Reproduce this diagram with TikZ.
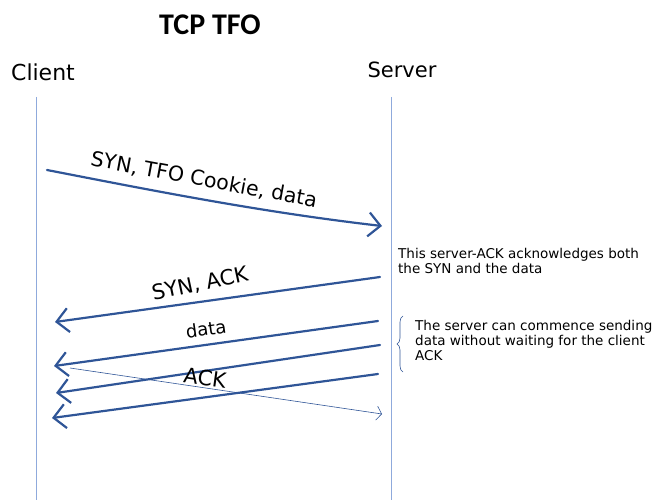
\documentclass[tikz,border=0pt]{standalone}
\usepackage{fontspec}
\setmainfont{DejaVu Sans}
\newfontfamily\titlefont{Carlito}
\usetikzlibrary{arrows.meta,decorations.pathreplacing}
\definecolor{msg}{RGB}{47,85,151}
\definecolor{life}{RGB}{143,170,220}
\tikzset{
  lifeline/.style={draw=life, line width=0.6pt},
  msgline/.style={draw=msg, line width=2.2pt, line cap=round,
    -{Straight Barb[length=12pt,width=24pt,line width=2.2pt]}},
  thinmsg/.style={draw=msg, line width=0.6pt,
    -{Straight Barb[length=5pt,width=14pt,line width=0.6pt]}},
  lbl/.style={font=\fontsize{21}{23}\selectfont, inner sep=0pt},
  note/.style={font=\fontsize{13.5}{15}\selectfont, align=left, inner sep=0pt, anchor=north west}
}
\begin{document}
\begin{tikzpicture}[x=1pt,y=-1pt]
\useasboundingbox (0,0) rectangle (654,500);
\node[font=\titlefont\bfseries\fontsize{30}{32}\selectfont] (title) at (210,25) {TCP TFO};
\node[font=\fontsize{22}{24}\selectfont] (client) at (43,72) {Client};
\node[font=\fontsize{21}{23}\selectfont] (server) at (402,70) {Server};
\coordinate (ctop) at (36,97);
\coordinate (cbot) at (36,500);
\coordinate (stop) at (391,97);
\coordinate (sbot) at (391,500);
\draw[lifeline] (ctop) -- (cbot);
\draw[lifeline] (stop) -- (sbot);
% message endpoints
\coordinate (m1s) at (47,170);
\coordinate (m1e) at (382,226);
\coordinate (m2s) at (380,277);
\coordinate (m2e) at (55,322);
\coordinate (m3s) at (378,321);
\coordinate (m3e) at (54,366);
\coordinate (m4s) at (380,345);
\coordinate (m4e) at (56,393);
\coordinate (m5s) at (378,374);
\coordinate (m5e) at (52,418);
\coordinate (t1s) at (70,368);
\coordinate (t1e) at (382,414);
\draw[msgline] (m1s) .. controls (150,190) and (260,212) .. (m1e);
\draw[msgline] (m2s) -- (m2e);
\draw[msgline] (m3s) -- (m3e);
\draw[msgline] (m4s) -- (m4e);
\draw[msgline] (m5s) -- (m5e);
\draw[thinmsg] (t1s) -- (t1e);
% labels
\node[lbl, font=\fontsize{20.5}{22}\selectfont, rotate=-10.5] (l1) at (204,180) {SYN, TFO Cookie, data};
\node[lbl, rotate=12] (l2) at (200,284) {SYN, ACK};
\node[lbl, font=\fontsize{18}{20}\selectfont, rotate=8] (l3) at (206,329) {data};
\node[lbl, rotate=-8] (l4) at (205,378) {ACK};
% notes
\node[note] (n1) at (398,248) {This server-ACK acknowledges both\\the SYN and the data};
\node[note] (n2) at (415,320) {The server can commence sending\\data without waiting for the client\\ACK};
\draw[draw=msg, line width=0.6pt, decorate, decoration={brace, amplitude=6pt}] (403,372) -- (403,316);
\end{tikzpicture}
\end{document}
